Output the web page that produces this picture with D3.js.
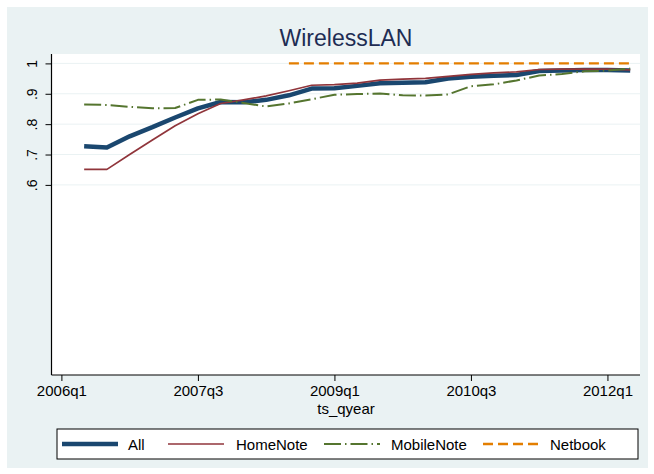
<!DOCTYPE html>
<html>
<head>
<meta charset="utf-8">
<script src="https://cdn.jsdelivr.net/npm/d3@7"></script>
<style>
  html, body { margin: 0; padding: 0; background: #ffffff; }
  svg { display: block; font-family: "Liberation Sans", Arial, sans-serif; }
</style>
</head>
<body>
<svg id="chart" width="654" height="474"></svg>
<script>
// Quarterly observations, 2006q2 .. 2012q2
const quarters = [
  "2006q2","2006q3","2006q4","2007q1","2007q2","2007q3","2007q4",
  "2008q1","2008q2","2008q3","2008q4","2009q1","2009q2","2009q3","2009q4",
  "2010q1","2010q2","2010q3","2010q4","2011q1","2011q2","2011q3","2011q4",
  "2012q1","2012q2"
];
const allValues = [
  0.727, 0.723, 0.760, 0.790, 0.822, 0.852, 0.873, 0.872, 0.880, 0.895,
  0.917, 0.918, 0.926, 0.935, 0.936, 0.938, 0.950, 0.956, 0.959, 0.962,
  0.975, 0.977, 0.978, 0.978, 0.977
];
const homeNoteValues = [
  0.651, 0.651, 0.700, 0.748, 0.795, 0.834, 0.868, 0.880, 0.893, 0.910,
  0.928, 0.930, 0.935, 0.945, 0.948, 0.951, 0.957, 0.964, 0.969, 0.972,
  0.980, 0.981, 0.981, 0.981, 0.979
];
const mobileNoteValues = [
  0.865, 0.863, 0.857, 0.852, 0.853, 0.880, 0.881, 0.870, 0.858, 0.868,
  0.882, 0.897, 0.899, 0.901, 0.895, 0.894, 0.898, 0.925, 0.931, 0.944,
  0.960, 0.965, 0.974, 0.976, 0.983
];
// Netbook series begins in 2008q3
const netbookQuarters = quarters.slice(9);
const netbookValues = [
  1.0, 1.0, 1.0, 1.0, 1.0, 1.0, 1.0, 1.0,
  1.0, 1.0, 1.0, 1.0, 1.0, 1.0, 1.0, 1.0
];
const xTickLabels = ["2006q1", "2007q3", "2009q1", "2010q3", "2012q1"];
const yTickValues = [0.6, 0.7, 0.8, 0.9, 1];
const yTickLabels = [".6", ".7", ".8", ".9", "1"];

const seriesNames = ["All", "HomeNote", "MobileNote", "Netbook"];
const seriesColors = ["#1a476f", "#90353b", "#55752f", "#e37e00"];

// quarter string -> running quarter index counted from 2006q1
const qIndex = s => (+s.slice(0, 4) - 2006) * 4 + (+s.slice(5) - 1);

const FONT = "'Liberation Sans', Arial, sans-serif";
const svg = d3.select("#chart");

// graph region
svg.append("rect").attr("x", 7).attr("y", 7).attr("width", 641).attr("height", 461)
  .attr("fill", "#eaf2f3");

const plot = { left: 51.5, right: 640, top: 54, bottom: 375 };
svg.append("rect")
  .attr("x", plot.left).attr("y", plot.top)
  .attr("width", plot.right - plot.left).attr("height", plot.bottom - plot.top)
  .attr("fill", "#ffffff");

const x = d3.scaleLinear().domain([0, 25]).range([61.4, 630.2]);
const y = d3.scaleLinear().domain([0.6, 1]).range([184.9, 63.4]);

// gridlines
svg.append("g").selectAll("line").data(yTickValues).join("line")
  .attr("x1", plot.left).attr("x2", plot.right)
  .attr("y1", d => y(d)).attr("y2", d => y(d))
  .attr("stroke", "#eaf2f3").attr("stroke-width", 1);

// y axis
const yAxis = d3.axisLeft(y).tickValues(yTickValues).tickSize(6).tickPadding(0)
  .tickFormat((d, i) => yTickLabels[i]);
const gy = svg.append("g").attr("transform", `translate(${plot.left},0)`).call(yAxis);
gy.select(".domain").attr("d", `M0,${plot.top}V${plot.bottom}`).attr("stroke", "#000").attr("stroke-width", 1.2);
gy.selectAll(".tick line").attr("stroke", "#000");
gy.selectAll(".tick text")
  .attr("x", 0).attr("y", 0).attr("dy", null)
  .attr("text-anchor", "middle")
  .attr("transform", "translate(-15,0) rotate(-90)")
  .attr("font-size", 14).attr("fill", "#000")
  .style("font-family", FONT);

// x axis
const xTickIdx = xTickLabels.map(qIndex);
const xAxis = d3.axisBottom(x).tickValues(xTickIdx).tickSize(6).tickPadding(4)
  .tickFormat((d, i) => xTickLabels[i]);
const gx = svg.append("g").attr("transform", `translate(0,${plot.bottom})`).call(xAxis);
gx.select(".domain").attr("d", `M${plot.left},0H${plot.right}`).attr("stroke", "#000").attr("stroke-width", 1.2);
gx.selectAll(".tick line").attr("stroke", "#000");
gx.selectAll(".tick text").attr("font-size", 15).attr("fill", "#000")
  .style("font-family", FONT);

// axis title and chart title
svg.append("text").attr("x", 346).attr("y", 414).attr("text-anchor", "middle")
  .attr("font-size", 15).attr("fill", "#000").style("font-family", FONT).text("ts_qyear");
svg.append("text").attr("x", 346).attr("y", 46).attr("text-anchor", "middle")
  .attr("font-size", 23).attr("fill", "#1e2d53").style("font-family", FONT).text("WirelessLAN");

// series lines
const line = d3.line().x(d => x(qIndex(d.q))).y(d => y(d.v));
const styles = [
  { width: 4.5, dash: null },
  { width: 1.7, dash: null },
  { width: 2, dash: "17,4,1.5,4" },
  { width: 2.4, dash: "10,5" }
];
const seriesData = [
  quarters.map((q, i) => ({ q, v: allValues[i] })),
  quarters.map((q, i) => ({ q, v: homeNoteValues[i] })),
  quarters.map((q, i) => ({ q, v: mobileNoteValues[i] })),
  netbookQuarters.map((q, i) => ({ q, v: netbookValues[i] }))
];
// drawn in legend order; All sits under the thinner series
[0, 1, 2, 3].forEach(k => {
  svg.append("path").datum(seriesData[k])
    .attr("d", line).attr("fill", "none")
    .attr("stroke", seriesColors[k]).attr("stroke-width", styles[k].width)
    .attr("stroke-dasharray", styles[k].dash)
    .attr("stroke-linejoin", "round");
});

// legend
const legend = svg.append("g");
legend.append("rect").attr("x", 57).attr("y", 429).attr("width", 581).attr("height", 30)
  .attr("fill", "#ffffff").attr("stroke", "#000").attr("stroke-width", 1);
const legendSample = [62, 168, 324, 483];
const legendText = [128, 236, 391, 550];
seriesNames.forEach((name, k) => {
  legend.append("line")
    .attr("x1", legendSample[k]).attr("x2", legendSample[k] + 56)
    .attr("y1", 444).attr("y2", 444)
    .attr("stroke", seriesColors[k]).attr("stroke-width", styles[k].width)
    .attr("stroke-dasharray", styles[k].dash);
  legend.append("text").attr("x", legendText[k]).attr("y", 449.5)
    .attr("font-size", 15).attr("fill", "#000").style("font-family", FONT).text(name);
});
</script>
</body>
</html>
